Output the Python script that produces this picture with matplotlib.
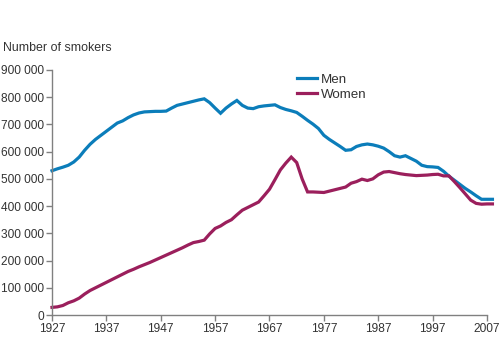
import matplotlib.pyplot as plt
from matplotlib.ticker import FuncFormatter

years = list(range(1927, 2009))

men = [530, 537, 543, 550, 562, 580, 605, 627, 645, 660,
       675, 690, 705, 713, 725, 735, 742, 746, 747, 748,
       748, 749, 760, 770, 775, 780, 785, 790, 794, 780,
       760, 741, 760, 775, 788, 770, 760, 758, 765, 768,
       770, 772, 762, 755, 750, 744, 730, 715, 701, 685,
       660, 645, 632, 619, 605, 607, 619, 625, 628, 625,
       620, 613, 600, 585, 580, 585, 575, 565, 550, 545,
       544, 542, 528, 510, 495, 480, 465, 452, 438, 425,
       425, 425]

women = [28, 30, 35, 45, 52, 62, 77, 90, 100, 110,
         120, 130, 140, 150, 160, 168, 177, 185, 193, 202,
         211, 220, 229, 238, 247, 257, 266, 270, 275, 298,
         318, 327, 340, 350, 368, 385, 395, 405, 415, 438,
         462, 497, 533, 558, 580, 560, 500, 452, 452, 451,
         450, 455, 460, 465, 470, 484, 490, 499, 494, 500,
         515, 525, 527, 523, 519, 516, 514, 512, 513, 514,
         516, 517, 511, 511, 490, 468, 445, 422, 410, 407,
         408, 408]

x_ticks = [1927, 1937, 1947, 1957, 1967, 1977, 1987, 1997, 2007]
y_ticks = [0, 100000, 200000, 300000, 400000, 500000, 600000, 700000, 800000, 900000]

men_color = '#0b7dba'
women_color = '#9b1f5c'
text_color = '#333333'
axis_color = '#808080'

plt.rcParams['font.family'] = ['Liberation Sans', 'DejaVu Sans']

fig = plt.figure(figsize=(5, 3.38), dpi=100)
ax = fig.add_axes([0.104, 0.068, 0.87, 0.725])

ax.plot(years, [v * 1000 for v in men], color=men_color, lw=2.3, label='Men', clip_on=False,
        solid_joinstyle='miter')
ax.plot(years, [v * 1000 for v in women], color=women_color, lw=2.3, label='Women', clip_on=False,
        solid_joinstyle='miter')

ax.set_xlim(1927, 2007)
ax.set_ylim(0, 900000)
ax.set_xticks(x_ticks)
ax.set_yticks(y_ticks)
ax.yaxis.set_major_formatter(FuncFormatter(lambda v, pos: f'{int(v):,}'.replace(',', ' ')))

for side in ['top', 'right']:
    ax.spines[side].set_visible(False)
for side in ['left', 'bottom']:
    ax.spines[side].set_color(axis_color)
    ax.spines[side].set_linewidth(1.0)
ax.tick_params(axis='both', direction='out', length=4, width=1.0, color=axis_color,
               labelsize=8.6, labelcolor=text_color, pad=2)

fig.text(0.006, 1 - 48 / 338, 'Number of smokers', fontsize=8.9, color=text_color, va='center')

leg = ax.legend(loc='upper left', bbox_to_anchor=(0.563, 0.985), frameon=False, fontsize=9.6,
                handlelength=1.5, handletextpad=0.3, labelspacing=0.2, borderpad=0,
                borderaxespad=0)
for t in leg.get_texts():
    t.set_color(text_color)

fig.savefig('out.png', dpi=100)
